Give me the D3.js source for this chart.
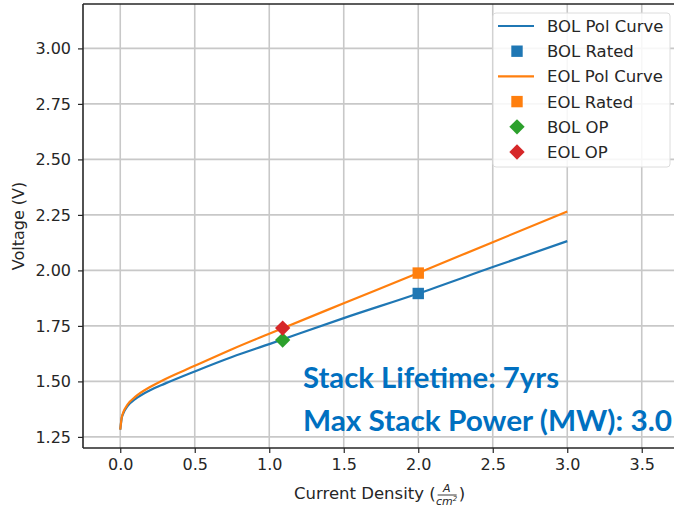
<!DOCTYPE html>
<html>
<head>
<meta charset="utf-8">
<script src="https://cdn.jsdelivr.net/npm/d3@7"></script>
<style>
  body { margin: 0; background: #fff; }
  svg { display: block; }
  text { font-family: "DejaVu Sans", sans-serif; fill: #262626; }
</style>
</head>
<body>
<div id="chart"></div>
<script>
// current density (A/cm2) samples of the polarisation curves
const density = [0, 0.01, 0.02, 0.05, 0.1, 0.2, 0.3, 0.5, 0.75, 1.0, 1.5, 2.0, 2.5, 3.0];
const bolVoltage = [1.283, 1.335, 1.355, 1.39, 1.42, 1.46, 1.49, 1.545, 1.61, 1.668, 1.785, 1.896, 2.015, 2.132];
const eolVoltage = [1.283, 1.338, 1.36, 1.397, 1.43, 1.475, 1.51, 1.57, 1.645, 1.715, 1.852, 1.988, 2.127, 2.265];

// single points
const bolRated = [2.0, 1.896];
const eolRated = [2.0, 1.988];
const bolOP = [1.09, 1.686];
const eolOP = [1.09, 1.740];

const xTicks = [0, 0.5, 1.0, 1.5, 2.0, 2.5, 3.0, 3.5];
const yTicks = [1.25, 1.5, 1.75, 2.0, 2.25, 2.5, 2.75, 3.0];

const legendLabels = ["BOL Pol Curve", "BOL Rated", "EOL Pol Curve", "EOL Rated", "BOL OP", "EOL OP"];
const notes = ["Stack Lifetime: 7yrs", "Max Stack Power (MW): 3.0"];

const blue = "#1f77b4", orange = "#ff7f0e", green = "#2ca02c", red = "#d62728";

const w = 674, h = 508;
const pLeft = 83, pTop = 4, pBottom = 448, pRight = 679;

const svg = d3.select("#chart").append("svg")
	.attr("width", w)
	.attr("height", h);

const xScale = d3.scaleLinear().domain([-0.25, 3.75]).range([pLeft, pRight]);
const yScale = d3.scaleLinear().domain([1.2, 3.2]).range([pBottom, pTop]);

svg.append("clipPath").attr("id", "plotclip")
	.append("rect")
	.attr("x", pLeft).attr("y", pTop)
	.attr("width", pRight - pLeft).attr("height", pBottom - pTop);

// grid
const grid = svg.append("g");
grid.selectAll(".gx").data(xTicks).enter().append("line")
	.attr("x1", d => xScale(d)).attr("x2", d => xScale(d))
	.attr("y1", pTop).attr("y2", pBottom)
	.attr("stroke", "#c8c8c8").attr("stroke-width", 1.6);
grid.selectAll(".gy").data(yTicks).enter().append("line")
	.attr("x1", pLeft).attr("x2", pRight)
	.attr("y1", d => yScale(d)).attr("y2", d => yScale(d))
	.attr("stroke", "#c8c8c8").attr("stroke-width", 1.6);

// curves
const plot = svg.append("g").attr("clip-path", "url(#plotclip)");
const line = d3.line()
	.x(d => xScale(d[0]))
	.y(d => yScale(d[1]))
	.curve(d3.curveMonotoneX);

plot.append("path")
	.datum(d3.zip(density, bolVoltage))
	.attr("d", line)
	.attr("fill", "none").attr("stroke", blue).attr("stroke-width", 2.2);
plot.append("path")
	.datum(d3.zip(density, eolVoltage))
	.attr("d", line)
	.attr("fill", "none").attr("stroke", orange).attr("stroke-width", 2.2);

const square = d3.symbol().type(d3.symbolSquare).size(130);
const diamond = d3.symbol().type(d3.symbolDiamond2).size(150);

plot.append("path").attr("d", square)
	.attr("transform", `translate(${xScale(bolRated[0])},${yScale(bolRated[1])})`)
	.attr("fill", blue);
plot.append("path").attr("d", square)
	.attr("transform", `translate(${xScale(eolRated[0])},${yScale(eolRated[1])})`)
	.attr("fill", orange);
plot.append("path").attr("d", diamond)
	.attr("transform", `translate(${xScale(bolOP[0])},${yScale(bolOP[1])})`)
	.attr("fill", green);
plot.append("path").attr("d", diamond)
	.attr("transform", `translate(${xScale(eolOP[0])},${yScale(eolOP[1])})`)
	.attr("fill", red);

// axes
const xAxis = d3.axisBottom(xScale).tickValues(xTicks).tickFormat(d3.format(".1f")).tickSize(5).tickPadding(6);
const yAxis = d3.axisLeft(yScale).tickValues(yTicks).tickFormat(d3.format(".2f")).tickSize(5).tickPadding(7);

const gx = svg.append("g").attr("transform", `translate(0,${pBottom})`).call(xAxis);
const gy = svg.append("g").attr("transform", `translate(${pLeft},0)`).call(yAxis);
[gx, gy].forEach(g => {
	g.select(".domain").remove();
	g.selectAll(".tick line").attr("stroke", "#262626").attr("stroke-width", 1.2);
	g.selectAll(".tick text").style("font-size", "16px").attr("fill", "#262626")
		.style("font-family", "DejaVu Sans, sans-serif");
});

// spines
svg.append("line").attr("x1", pLeft).attr("x2", pLeft).attr("y1", pTop).attr("y2", pBottom)
	.attr("stroke", "#262626").attr("stroke-width", 1.6);
svg.append("line").attr("x1", pLeft).attr("x2", pRight).attr("y1", pBottom).attr("y2", pBottom)
	.attr("stroke", "#262626").attr("stroke-width", 1.6);
svg.append("line").attr("x1", pLeft).attr("x2", pRight).attr("y1", pTop).attr("y2", pTop)
	.attr("stroke", "#262626").attr("stroke-width", 1.6);

// y label
svg.append("text")
	.attr("transform", `translate(24,${(pTop + pBottom) / 2}) rotate(-90)`)
	.attr("text-anchor", "middle")
	.style("font-size", "16px")
	.text("Voltage (V)");

// x label with a small fraction A / cm^2
const xl = svg.append("g");
const xMain = xl.append("text")
	.attr("x", 294).attr("y", 499)
	.style("font-size", "16.5px")
	.text("Current Density (");
const fx = 294 + xMain.node().getComputedTextLength() + 1;
xl.append("text").attr("x", fx + 10).attr("y", 492)
	.attr("text-anchor", "middle").style("font-size", "11px").attr("font-style", "italic")
	.text("A");
xl.append("line").attr("x1", fx + 1).attr("x2", fx + 20).attr("y1", 495).attr("y2", 495)
	.attr("stroke", "#262626").attr("stroke-width", 0.9);
xl.append("text").attr("x", fx + 10).attr("y", 505)
	.attr("text-anchor", "middle").style("font-size", "11px").attr("font-style", "italic")
	.html("cm<tspan dy='-4' font-size='7px'>2</tspan>");
xl.append("text").attr("x", fx + 22).attr("y", 499)
	.style("font-size", "16.5px")
	.text(")");

// legend
const lg = svg.append("g").attr("transform", "translate(493,13)");
lg.append("rect")
	.attr("width", 177).attr("height", 154).attr("rx", 3)
	.attr("fill", "#fff").attr("fill-opacity", 0.85)
	.attr("stroke", "#dcdcdc").attr("stroke-width", 1);

const legendColors = [blue, blue, orange, orange, green, red];
const legendKinds = ["line", "square", "line", "square", "diamond", "diamond"];
const rows = lg.selectAll(".row").data(legendLabels).enter().append("g")
	.attr("transform", (d, i) => `translate(0,${13 + i * 25.2})`);
rows.each(function(d, i) {
	const g = d3.select(this);
	if (legendKinds[i] === "line") {
		g.append("line").attr("x1", 5).attr("x2", 41).attr("y1", 0).attr("y2", 0)
			.attr("stroke", legendColors[i]).attr("stroke-width", 2.2);
	} else {
		g.append("path").attr("d", legendKinds[i] === "square" ? square : diamond)
			.attr("transform", "translate(24,0)")
			.attr("fill", legendColors[i]);
	}
	g.append("text").attr("x", 54).attr("y", 6)
		.style("font-size", "16.5px")
		.text(d);
});

// annotation
const noteWidths = [256, 369];
svg.selectAll(".note").data(notes).enter().append("text")
	.attr("x", 303)
	.attr("y", (d, i) => 388 + i * 43)
	.attr("textLength", (d, i) => noteWidths[i])
	.attr("lengthAdjust", "spacingAndGlyphs")
	.style("font-family", "Lato, sans-serif")
	.style("font-weight", "bold")
	.style("font-size", "29px")
	.style("fill", "#0070c0")
	.text(d => d);
</script>
</body>
</html>
